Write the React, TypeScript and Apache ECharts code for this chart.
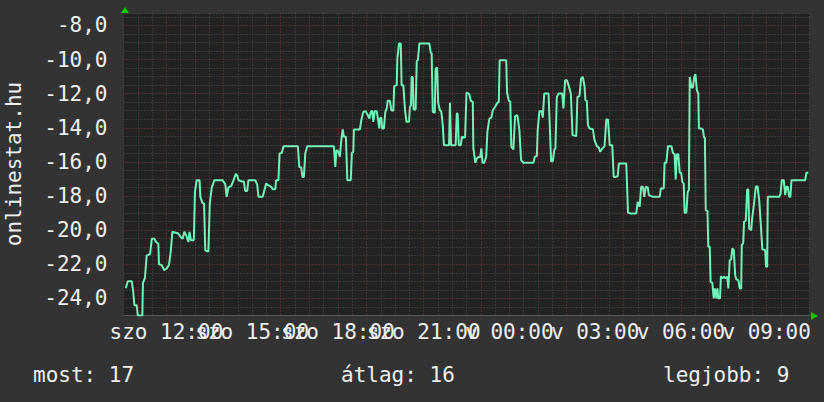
import React, { useEffect, useRef } from "react";
import * as echarts from "echarts";

// hours since "szo" 00:00 (values >= 24 are on "v")
const HOURS = [
  10.58, 10.65, 10.79, 10.84, 10.88, 10.96, 11.0, 11.16, 11.18, 11.25, 11.31, 11.43, 11.49, 11.58, 11.64, 11.72, 11.74, 11.84,
  11.92, 12.01, 12.09, 12.15, 12.21, 12.42, 12.5, 12.57, 12.63, 12.69, 12.77, 12.81, 12.86, 12.96, 13.0, 13.06, 13.16, 13.19,
  13.26, 13.32, 13.36, 13.47, 13.52, 13.59, 13.68, 13.96, 14.06, 14.11, 14.17, 14.27, 14.35, 14.43,
  14.48, 14.52, 14.64, 14.71, 14.76, 14.83, 14.87, 15.11, 15.18, 15.22, 15.37, 15.43, 15.49, 15.55, 15.67, 15.72, 15.81, 15.84,
  15.92, 15.96, 16.04, 16.1, 16.6, 16.65, 16.72, 16.76, 16.81, 16.86, 16.93, 17.86, 17.91, 17.95, 18.02, 18.07, 18.12, 18.17,
  18.21, 18.28, 18.33, 18.45,
  18.49, 18.54, 18.56, 18.77, 18.82, 18.89, 18.97, 19.05, 19.1, 19.15, 19.2, 19.24, 19.29, 19.36, 19.4, 19.45, 19.47, 19.52,
  19.55, 19.61, 19.66, 19.71, 19.74, 19.82, 19.87, 19.94, 19.97, 20.06, 20.08, 20.14, 20.2, 20.23, 20.29, 20.35, 20.4, 20.49,
  20.52, 20.56, 20.58, 20.62, 20.65, 20.72, 20.76, 20.8, 20.85, 21.2, 21.25, 21.28, 21.32, 21.39, 21.42, 21.47, 21.51, 21.57,
  21.62, 21.67, 21.71, 21.89, 21.92, 21.96, 22.12, 22.16, 22.19, 22.23, 22.3, 22.34, 22.45, 22.5, 22.57,
  22.6, 22.65, 22.72, 22.74, 22.81, 22.86, 22.93, 22.98, 23.02, 23.06, 23.12, 23.19, 23.23, 23.3, 23.37, 23.42, 23.5, 23.58,
  23.63, 23.66, 23.89, 23.92, 23.98, 24.03, 24.07, 24.14, 24.2, 24.28, 24.35, 24.41, 24.49, 24.84, 24.89, 24.96, 24.99, 25.05,
  25.13, 25.17, 25.22, 25.37, 25.41, 25.46, 25.52, 25.57, 25.61, 25.66, 25.72, 25.85, 25.89, 25.95, 26.01, 26.07, 26.15, 26.21,
  26.34, 26.38, 26.45, 26.51, 26.57,
  26.63, 26.66, 26.71, 26.75, 26.8, 26.92, 26.98, 27.06, 27.13, 27.18, 27.25, 27.33, 27.39, 27.45, 27.51, 27.6, 27.65, 27.72,
  27.79, 27.83, 28.09, 28.15, 28.23, 28.44, 28.49, 28.56, 28.61, 28.67, 28.72, 28.77, 28.84, 28.88, 29.02, 29.26, 29.3, 29.4,
  29.43, 29.49, 29.55, 29.67, 29.72, 29.78, 29.82, 29.86, 29.91, 29.96, 30.01, 30.05, 30.1, 30.13, 30.19, 30.24, 30.28, 30.31,
  30.37, 30.42, 30.47, 30.51, 30.56, 30.61, 30.63, 30.72, 30.77, 30.81, 30.84,
  30.87, 30.93, 30.96, 31.01, 31.04, 31.1, 31.15, 31.19, 31.24, 31.28, 31.31, 31.37, 31.4, 31.45, 31.51, 31.57, 31.62, 31.66,
  31.71, 31.76, 31.8, 31.85, 31.9, 31.94, 32.01, 32.06, 32.11, 32.13, 32.18, 32.21, 32.27, 32.32, 32.36, 32.39, 32.46, 32.5,
  32.56, 32.62, 32.68, 32.74, 32.79, 32.85, 32.95, 32.98, 33.02, 33.04, 33.44, 33.49, 33.53, 33.6, 33.65, 33.69, 33.74, 33.79,
  33.83, 33.87, 34.35, 34.39, 34.46,
];

const TEMPS = [
  -23.4, -23.0, -23.0, -23.6, -24.4, -24.4, -25, -25, -23.1, -22.8, -21.5, -21.4, -20.5, -20.5, -20.7, -20.8, -22.0, -22.05,
  -22.35, -22.25, -22.05, -21.3, -20.1, -20.2, -20.4, -20.5, -20.1, -20.3, -20.7, -20.1, -20.6, -20.6, -17.75, -17.07, -17.07, -18.05,
  -18.4, -18.45, -21.2, -21.25, -18.4, -17.5, -17.07, -17.07, -17.3, -18.05, -17.5, -17.4, -17.07, -16.7,
  -16.8, -17.07, -17.15, -17.15, -17.7, -17.7, -17.07, -17.07, -17.35, -18.05, -18.05, -17.65, -17.27, -17.35, -17.46, -17.6, -17.6, -17.07,
  -17.07, -15.5, -15.47, -15.08, -15.08, -16.3, -16.33, -16.88, -16.88, -15.5, -15.08, -15.08, -16.3, -15.3, -15.41, -15.7, -14.73, -14.1,
  -14.53, -14.53, -17.07, -17.07,
  -15.47, -15.41, -14.1, -14.1, -13.55, -13.07, -13.03, -13.26, -13.46, -13.07, -13.0, -13.65, -13.03, -13.03, -13.46, -14.04, -13.46, -13.4,
  -14.04, -14.04, -13.07, -12.87, -12.42, -12.42, -12.97, -13.0, -11.56, -11.5, -9.94, -9.06, -9.06, -11.5, -11.5, -12.97, -13.65, -13.65,
  -12.77, -12.68, -11.02, -11.02, -12.93, -12.93, -10.08, -10.04, -9.06, -9.06, -9.61, -9.61, -13.07, -13.13, -10.53, -10.47, -12.54, -12.97,
  -13.07, -13.85, -15.02, -15.02, -12.54, -15.02, -15.02, -13.16, -13.16, -15.02, -15.02, -14.53, -14.57, -11.95, -11.99,
  -12.03, -12.42, -12.48, -15.21, -16.05, -15.8, -15.7, -15.74, -15.21, -16.05, -16.05, -15.7, -14.24, -13.46, -13.4, -12.97, -12.77, -12.54,
  -12.48, -10.04, -10.04, -11.95, -12.42, -12.46, -15.12, -15.27, -13.32, -13.26, -14.14, -15.9, -16.05, -16.05, -15.7, -15.66, -14.14, -13.03,
  -13.03, -13.4, -11.99, -11.99, -13.75, -15.96, -15.96, -15.31, -15.21, -12.19, -11.99, -11.99, -12.87, -11.21, -11.21, -11.5, -11.99, -14.43,
  -14.49, -12.19, -12.15, -11.11, -11.02,
  -11.6, -12.38, -12.42, -13.85, -14.04, -14.08, -14.73, -15.08, -15.16, -15.41, -15.21, -15.08, -13.52, -13.52, -15.02, -15.02, -16.88, -16.88,
  -16.84, -16.1, -16.1, -18.98, -19.02, -19.02, -18.34, -18.63, -17.46, -17.46, -18.05, -17.46, -17.5, -17.95, -18.05, -18.05, -17.56, -17.56,
  -16.05, -16.05, -15.08, -15.08, -15.47, -15.55, -17.03, -15.55, -15.55, -16.64, -16.64, -17.17, -17.27, -18.98, -18.98, -17.75, -17.66, -11.02,
  -11.64, -11.64, -11.02, -10.86, -11.8, -11.99, -14.04, -14.04, -14.1, -14.57, -14.57,
  -18.83, -18.87, -20.98, -20.98, -23.03, -23.09, -24.0, -23.42, -24.0, -23.42, -24.0, -24.0, -22.7, -22.83, -22.73, -22.83, -22.73, -23.42,
  -21.76, -21.72, -21.07, -21.17, -22.64, -22.89, -22.93, -23.42, -23.42, -20.88, -20.78, -19.51, -19.45, -17.62, -17.62, -19.9, -20.0, -19.22,
  -18.44, -17.46, -17.42, -18.24, -19.51, -21.13, -21.17, -22.15, -22.15, -18.05, -18.05, -17.85, -17.07, -17.07, -17.95, -17.46, -17.46, -18.05,
  -18.05, -17.07, -17.07, -16.64, -16.64,
];

const DAY_NAMES = ["szo", "v"];
const LABEL_EVERY_HOURS = 3;
const Y_LABEL_EVERY = 2;
const AXIS_NAME = "onlinestat.hu";
const SUMMARY = ["most: 17", "átlag: 16", "legjobb: 9"];

const FONT = '"DejaVu Sans Mono", monospace';
const TEXT = "#efefef";
const MINOR = "#4e4e4e";
const MAJOR = "#7a3838";

export default function App() {
  const ref = useRef<HTMLDivElement>(null);
  useEffect(() => {
    const chart = echarts.init(ref.current!, null, { renderer: "svg" });
    const data = HOURS.map((h, i) => [h, TEMPS[i]]);
    const pad = (n: number) => (n < 10 ? "0" + n : "" + n);
    chart.setOption({
      animation: false,
      backgroundColor: "#333333",
      grid: { left: 123.5, right: 14.5, top: 13.5, bottom: 86.6, show: true, backgroundColor: "#222222", borderWidth: 0, containLabel: false },
      xAxis: {
        type: "value",
        min: 10.5,
        max: 34.5,
        interval: 0.5,
        axisLine: { show: true, lineStyle: { color: "#5a5a5a", width: 1 } },
        axisTick: { show: false },
        axisLabel: {
          color: TEXT,
          fontFamily: FONT,
          fontSize: 21,
          margin: 6,
          hideOverlap: false,
          showMinLabel: true,
          showMaxLabel: true,
          formatter: (v: number) => {
            const r = Math.round(v * 2) / 2;
            if (r % LABEL_EVERY_HOURS !== 0) return "";
            const day = DAY_NAMES[Math.floor(r / 24)];
            return `${day} ${pad(r % 24)}:00`;
          },
        },
        splitLine: { show: true, lineStyle: { color: [MINOR, MAJOR], type: [1, 2], width: 1 } },
      },
      yAxis: {
        type: "value",
        min: -25,
        max: -7.3,
        interval: 0.5,
        axisLine: { show: false },
        axisTick: { show: false },
        axisLabel: {
          color: TEXT,
          fontFamily: FONT,
          fontSize: 21,
          margin: 16,
          formatter: (v: number) => (Math.abs(v % Y_LABEL_EVERY) < 1e-6 ? v.toFixed(1).replace(".", ",") : ""),
        },
        splitLine: { show: true, lineStyle: { color: [MINOR, MINOR, MAJOR, MINOR], type: [1, 2], width: 1 } },
      },
      series: [
        {
          type: "line",
          data,
          showSymbol: false,
          symbol: "none",
          lineStyle: { color: "#72f2b8", width: 2 },
          clip: true,
        },
      ],
      graphic: [
        {
          type: "text",
          x: 14,
          y: 164,
          rotation: Math.PI / 2,
          style: { text: AXIS_NAME, fill: TEXT, fontFamily: FONT, fontSize: 21, align: "center", verticalAlign: "middle" },
        },
        { type: "text", x: 33, y: 375, style: { text: SUMMARY[0], fill: TEXT, fontFamily: FONT, fontSize: 21, align: "left", verticalAlign: "middle" } },
        { type: "text", x: 341, y: 375, style: { text: SUMMARY[1], fill: TEXT, fontFamily: FONT, fontSize: 21, align: "left", verticalAlign: "middle" } },
        { type: "text", x: 663, y: 375, style: { text: SUMMARY[2], fill: TEXT, fontFamily: FONT, fontSize: 21, align: "left", verticalAlign: "middle" } },
        { type: "polygon", shape: { points: [[121, 13], [129, 13], [125, 7]] }, style: { fill: "#00cc00" } },
        { type: "polygon", shape: { points: [[811, 312], [811, 320], [818, 316]] }, style: { fill: "#00cc00" } },
      ],
    });
    return () => chart.dispose();
  }, []);
  return <div ref={ref} style={{ position: "fixed", left: 0, top: 0, width: 824, height: 402 }} />;
}
